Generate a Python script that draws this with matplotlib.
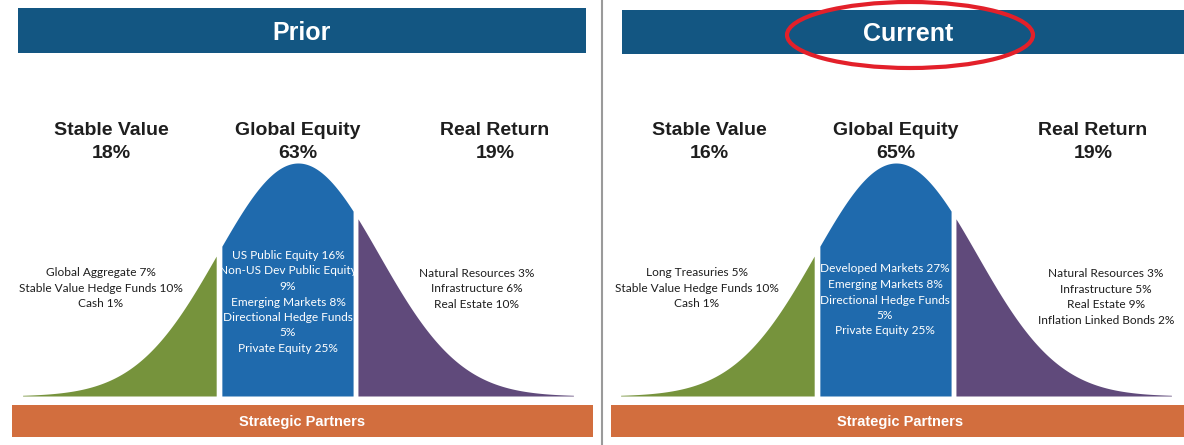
import matplotlib

matplotlib.use("Agg")
import matplotlib.pyplot as plt
import numpy as np
from matplotlib.patches import Ellipse, Rectangle

# ---- data -------------------------------------------------------------
panel_titles = ["Prior", "Current"]
sleeve_names = ["Stable Value", "Global Equity", "Real Return"]
prior_pct = [18, 63, 19]
current_pct = [16, 65, 19]

prior_stable_names = ["Global Aggregate", "Stable Value Hedge Funds", "Cash"]
prior_stable_pct = [7, 10, 1]
prior_equity_names = ["US Public Equity", "Non-US Dev Public Equity", "Emerging Markets",
                      "Directional Hedge Funds", "Private Equity"]
prior_equity_pct = [16, 9, 8, 5, 25]
prior_real_names = ["Natural Resources", "Infrastructure", "Real Estate"]
prior_real_pct = [3, 6, 10]

current_stable_names = ["Long Treasuries", "Stable Value Hedge Funds", "Cash"]
current_stable_pct = [5, 10, 1]
current_equity_names = ["Developed Markets", "Emerging Markets", "Directional Hedge Funds",
                        "Private Equity"]
current_equity_pct = [27, 8, 5, 25]
current_real_names = ["Natural Resources", "Infrastructure", "Real Estate",
                      "Inflation Linked Bonds"]
current_real_pct = [3, 5, 9, 2]

footer = "Strategic Partners"

# ---- style ------------------------------------------------------------
NAVY = "#135682"
BLUE = "#1f6aad"
GREEN = "#76933c"
PURPLE = "#604a7b"
ORANGE = "#d26e3e"
DARK = "#1e1e1e"
BOLD_FONT = "Liberation Sans"
SMALL_FONT = "Lato"

W, H = 1184, 445
fig = plt.figure(figsize=(W / 100, H / 100), dpi=100, facecolor="white")
ax = fig.add_axes([0, 0, 1, 1])
ax.set_xlim(0, W)
ax.set_ylim(H, 0)
ax.axis("off")

# panel layout (pixel space): centre of bell, title bar and footer extents
panels = [
    dict(mu=298, bar=(18, 586, 8, 53), foot=(12, 593), title_x=302,
         pct=prior_pct,
         groups=[(prior_stable_names, prior_stable_pct),
                 (prior_equity_names, prior_equity_pct),
                 (prior_real_names, prior_real_pct)],
         label_x=(101, 288, 477), label_y=(288, 302, 289)),
    dict(mu=896, bar=(622, W, 10, 54), foot=(611, W), title_x=908,
         pct=current_pct,
         groups=[(current_stable_names, current_stable_pct),
                 (current_equity_names, current_equity_pct),
                 (current_real_names, current_real_pct)],
         label_x=(697, 885, 1106), label_y=(288, 300, 297)),
]

SIGMA = 81.0
PEAK = 233.0
BASE = 396.0
SPAN = 3.4
# bell split points in sigma units: green | gap | blue | gap | purple
cuts = [(-SPAN, -1.01), (-0.94, 0.68), (0.74, SPAN)]
fills = [GREEN, BLUE, PURPLE]


def bell(z):
    return BASE - PEAK * np.exp(-0.5 * z ** 2)


def item_lines(names, pcts, wrap=None):
    out = []
    for n, p in zip(names, pcts):
        if wrap is not None and len(n) > wrap:
            out += [n, "%d%%" % p]
        else:
            out.append("%s %d%%" % (n, p))
    return "\n".join(out)


for i, pnl in enumerate(panels):
    x0, x1, y0, y1 = pnl["bar"]
    ax.add_patch(Rectangle((x0, y0), x1 - x0, y1 - y0, color=NAVY, lw=0))
    ax.text(pnl["title_x"], (y0 + y1) / 2 + 2, panel_titles[i], color="white",
            fontsize=18, fontweight="bold", family=BOLD_FONT, ha="center", va="center")

    fx0, fx1 = pnl["foot"]
    ax.add_patch(Rectangle((fx0, 405), fx1 - fx0, 32, color=ORANGE, lw=0))
    ax.text(pnl["mu"] + 4, 422, footer, color="white", fontsize=10.5,
            fontweight="bold", family=BOLD_FONT, ha="center", va="center")

    for (za, zb), c in zip(cuts, fills):
        z = np.linspace(za, zb, 200)
        xs = pnl["mu"] + SIGMA * z
        ax.fill_between(xs, bell(z), BASE, color=c, lw=0)

    heads_x = (pnl["mu"] - 187, pnl["mu"], pnl["mu"] + 197)
    for hx, name, pct in zip(heads_x, sleeve_names, pnl["pct"]):
        ax.text(hx, 142, "%s\n%d%%" % (name, pct), color=DARK, fontsize=14,
                fontweight="bold", family=BOLD_FONT, ha="center", va="center",
                linespacing=1.4)

    for j, (names, pcts) in enumerate(pnl["groups"]):
        txt = item_lines(names, pcts, wrap=22 if j == 1 else None)
        ax.text(pnl["label_x"][j], pnl["label_y"][j], txt,
                color="white" if j == 1 else DARK, fontsize=8.6, family=SMALL_FONT,
                ha="center", va="center", linespacing=1.5)

# divider between panels
ax.plot([602, 602], [0, H], color="#9a9a9a", lw=1.5)

# red highlight ring around "Current"
ax.add_patch(Ellipse((910, 35), 246, 66, fill=False, ec="#e3202a", lw=3))

fig.savefig("out.png", dpi=100, facecolor="white")
plt.close(fig)
